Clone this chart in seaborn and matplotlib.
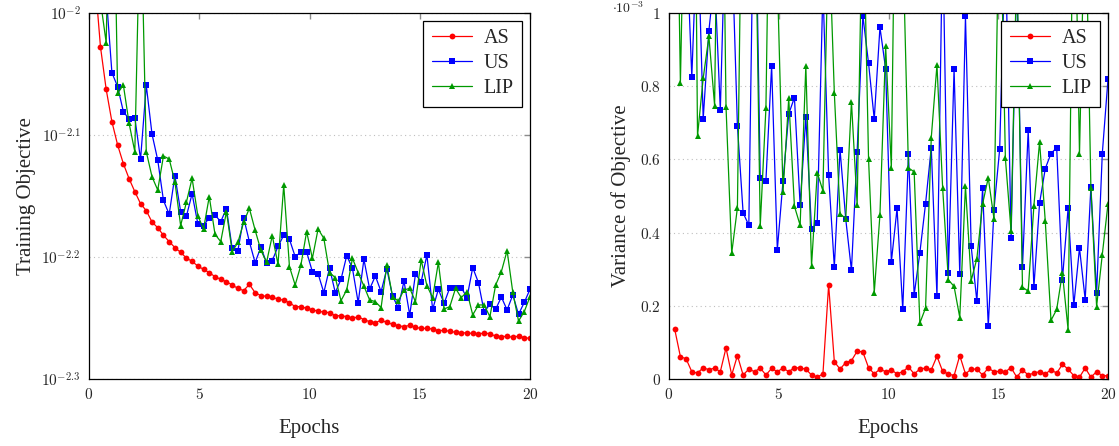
import numpy as np
import pandas as pd
import seaborn as sns
import matplotlib.pyplot as plt
from matplotlib.ticker import FixedLocator, NullLocator

# 77 evaluation points over 20 epochs
n_points = 77
epochs = np.arange(1, n_points + 1) * 20 / n_points

# Training objective, stored as log10 exponents
as_train_exp = [-1.970, -2.0276, -2.0626, -2.0891, -2.1082, -2.1235, -2.1358, -2.1464, -2.1563, -2.1620,
                -2.1713, -2.1760, -2.1822, -2.1874, -2.1923, -2.1962, -2.2008, -2.2036, -2.2074, -2.2101,
                -2.2128, -2.2161, -2.2183, -2.2202, -2.2230, -2.2257, -2.2276, -2.2224, -2.2292, -2.2317,
                -2.2322, -2.2331, -2.2344, -2.2355, -2.2374, -2.2407, -2.2407, -2.2421, -2.2432, -2.2445,
                -2.2451, -2.2456, -2.2481, -2.2481, -2.2489, -2.2503, -2.2489, -2.2514, -2.2530, -2.2538,
                -2.2519, -2.2536, -2.2552, -2.2563, -2.2571, -2.2560, -2.2577, -2.2585, -2.2585, -2.2590,
                -2.2604, -2.2601, -2.2609, -2.2617, -2.2620, -2.2623, -2.2626, -2.2634, -2.2620, -2.2631,
                -2.2648, -2.2653, -2.2650, -2.2658, -2.2648, -2.2661, -2.2667]
us_train_exp = [-1.95, -1.96, -1.985, -2.0489, -2.0604, -2.0809, -2.0869, -2.0858, -2.1199, -2.0593,
                -2.0992, -2.1205, -2.1536, -2.1650, -2.1333, -2.1628, -2.1667, -2.1481, -2.1727, -2.1743,
                -2.1678, -2.1656, -2.1710, -2.1604, -2.1929, -2.1948, -2.1678, -2.1874, -2.2046, -2.1921,
                -2.2046, -2.2030, -2.1913, -2.1822, -2.1855, -2.1997, -2.1959, -2.1959, -2.2120, -2.2137,
                -2.2292, -2.2090, -2.2292, -2.2183, -2.1989, -2.2093, -2.2374, -2.2019, -2.2262, -2.2156,
                -2.2284, -2.2098, -2.2320, -2.2415, -2.2197, -2.2475, -2.2142, -2.2202, -2.1984, -2.2429,
                -2.2265, -2.2380, -2.2251, -2.2251, -2.2251, -2.2333, -2.2087, -2.2210, -2.2451, -2.2388,
                -2.2429, -2.2328, -2.2434, -2.2311, -2.2470, -2.2372, -2.2265]
lip_train_exp = [-1.95, -1.99, -2.0243, -1.80, -2.0658, -2.0590, -2.0904, -2.1137, -1.90, -2.1137,
                 -2.1342, -2.1451, -2.1172, -2.1197, -2.1383, -2.1743, -2.1552, -2.1355, -2.1661, -2.1770,
                 -2.1505, -2.1814, -2.1874, -2.1628, -2.1956, -2.1880, -2.1716, -2.1601, -2.1779, -2.1943,
                 -2.2044, -2.1825, -2.2060, -2.1410, -2.2079, -2.2230, -2.2066, -2.1792, -2.2011, -2.1770,
                 -2.1847, -2.2128, -2.2169, -2.2358, -2.2270, -2.2011, -2.2128, -2.2238, -2.2352, -2.2366,
                 -2.2415, -2.2066, -2.2325, -2.2361, -2.2270, -2.2257, -2.2366, -2.2025, -2.2235, -2.2333,
                 -2.2044, -2.2426, -2.2407, -2.2257, -2.2333, -2.2284, -2.2475, -2.2393, -2.2393, -2.2489,
                 -2.2230, -2.2120, -2.1948, -2.2290, -2.2525, -2.2448, -2.2325]

# Variance of objective, in units of 1e-3
as_var = [0.136, 0.061, 0.055, 0.020, 0.016, 0.031, 0.025, 0.030, 0.020, 0.085,
          0.011, 0.064, 0.011, 0.027, 0.020, 0.030, 0.011, 0.029, 0.020, 0.030,
          0.020, 0.031, 0.030, 0.027, 0.011, 0.005, 0.014, 0.257, 0.047, 0.027,
          0.045, 0.050, 0.076, 0.074, 0.031, 0.014, 0.027, 0.020, 0.025, 0.014,
          0.020, 0.033, 0.014, 0.027, 0.030, 0.025, 0.062, 0.021, 0.014, 0.009,
          0.064, 0.014, 0.027, 0.027, 0.011, 0.030, 0.020, 0.021, 0.020, 0.031,
          0.005, 0.025, 0.011, 0.016, 0.020, 0.014, 0.025, 0.016, 0.040, 0.027,
          0.009, 0.005, 0.030, 0.005, 0.020, 0.009, 0.009]
us_var = [1.4, 1.5, 1.23, 0.825, 1.25, 0.711, 0.952, 1.1, 0.735, 1.3,
          1.2, 0.692, 0.454, 0.420, 1.5, 0.550, 0.542, 0.856, 0.353, 0.541,
          0.724, 0.769, 0.475, 0.715, 0.409, 0.427, 1.07, 0.557, 0.306, 0.627,
          0.437, 0.297, 0.621, 0.993, 0.863, 0.710, 0.961, 0.847, 0.320, 0.466,
          0.190, 0.614, 0.230, 0.345, 0.479, 0.632, 0.226, 1.22, 0.290, 0.847,
          0.288, 0.991, 0.363, 0.212, 0.522, 0.144, 0.463, 0.628, 1.2, 0.384,
          1.12, 0.306, 0.680, 0.251, 0.481, 0.575, 0.616, 0.632, 0.271, 0.466,
          0.201, 0.358, 0.217, 0.525, 0.235, 0.616, 0.819]
lip_var = [1.8, 0.808, 1.6, 2.5, 0.664, 0.822, 0.936, 0.747, 2.0, 0.744,
           0.344, 0.468, 1.67, 1.6, 1.45, 0.417, 0.740, 1.8, 1.1, 0.511,
           0.767, 0.472, 0.420, 0.856, 0.309, 0.564, 0.514, 1.24, 0.781, 0.452,
           0.438, 0.758, 0.475, 1.36, 0.601, 0.236, 0.449, 0.909, 0.577, 1.8,
           1.2, 0.577, 0.566, 0.153, 0.194, 0.659, 0.858, 0.521, 0.271, 0.253,
           0.168, 0.527, 0.269, 0.329, 0.478, 0.550, 0.438, 1.4, 0.603, 0.404,
           1.15, 0.251, 0.240, 0.473, 0.648, 0.431, 0.160, 0.190, 0.290, 0.135,
           1.5, 0.614, 1.35, 0.521, 0.198, 0.340, 0.479]

methods = ['AS', 'US', 'LIP']
colors = {'AS': '#ff0000', 'US': '#0000ff', 'LIP': '#009900'}
markers = {'AS': 'o', 'US': 's', 'LIP': '^'}
msizes = {'AS': 4.2, 'US': 4.6, 'LIP': 4.4}

train = pd.DataFrame({'epoch': epochs,
                      'AS': 10 ** np.array(as_train_exp),
                      'US': 10 ** np.array(us_train_exp),
                      'LIP': 10 ** np.array(lip_train_exp)})
var = pd.DataFrame({'epoch': epochs, 'AS': as_var, 'US': us_var, 'LIP': lip_var})

sns.set_style('white')
plt.rcParams['font.family'] = ['Liberation Serif', 'DejaVu Serif']
plt.rcParams['mathtext.fontset'] = 'cm'

fig = plt.figure(figsize=(11.19, 4.46), dpi=100)
ax1 = fig.add_axes([89 / 1119, 67 / 446, 441 / 1119, 366 / 446])
ax2 = fig.add_axes([669 / 1119, 67 / 446, 439 / 1119, 366 / 446])

for ax, df in [(ax1, train), (ax2, var)]:
    for m in methods:
        sns.lineplot(x='epoch', y=m, data=df, ax=ax, color=colors[m], marker=markers[m],
                     markersize=msizes[m], markeredgewidth=0, linewidth=0.9, label=m)
    ax.set_xlim(0, 20)
    ax.xaxis.set_major_locator(FixedLocator([0, 5, 10, 15, 20]))
    ax.set_xticklabels(['$%d$' % v for v in [0, 5, 10, 15, 20]])
    ax.set_xlabel('Epochs', fontsize=15, labelpad=12)
    ax.tick_params(which='major', direction='in', length=4, width=1, color='0.55',
                   top=True, right=True, labelsize=11, pad=6)
    ax.grid(axis='y', linestyle=(0, (1, 3)), color='0.75', linewidth=0.8)
    for s in ax.spines.values():
        s.set_color('black')
        s.set_linewidth(0.9)
    leg = ax.legend(loc='upper right', fontsize=14.5, frameon=True, fancybox=False,
                    edgecolor='black', framealpha=1, borderaxespad=0.4,
                    handlelength=2.0, handletextpad=0.6, borderpad=0.4, labelspacing=0.3)
    leg.get_frame().set_linewidth(0.9)

ax1.set_yscale('log')
ax1.set_ylim(10 ** -2.3, 10 ** -2)
ax1.yaxis.set_major_locator(FixedLocator([10 ** -2.3, 10 ** -2.2, 10 ** -2.1, 10 ** -2]))
ax1.yaxis.set_minor_locator(NullLocator())
ax1.set_yticklabels(['$10^{-2.3}$', '$10^{-2.2}$', '$10^{-2.1}$', '$10^{-2}$'])
ax1.set_ylabel('Training Objective', fontsize=15, labelpad=4)

ax2.set_ylim(0, 1)
ax2.yaxis.set_major_locator(FixedLocator([0, 0.2, 0.4, 0.6, 0.8, 1]))
ax2.set_yticklabels(['$0$', '$0.2$', '$0.4$', '$0.6$', '$0.8$', '$1$'])
ax2.set_ylabel('Variance of Objective', fontsize=15, labelpad=6)
fig.text(612 / 1119, 1.0, r'$\cdot 10^{-3}$', fontsize=10, ha='left', va='top')

fig.savefig('out.png', dpi=100)
